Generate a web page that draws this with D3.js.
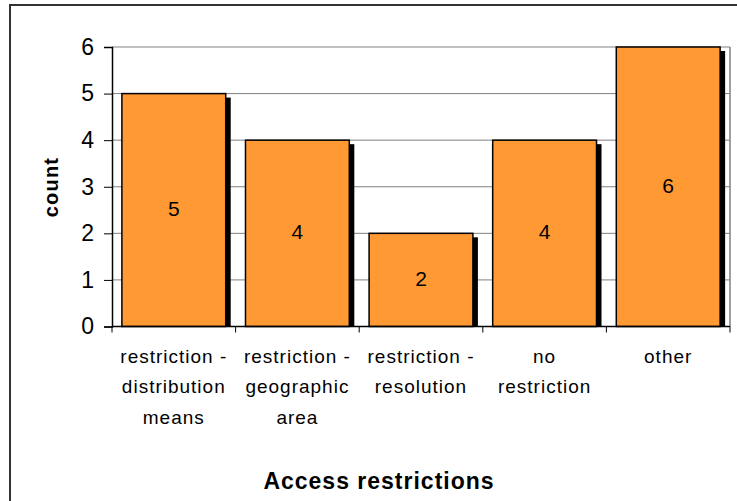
<!DOCTYPE html>
<html>
<head>
<meta charset="utf-8">
<script src="https://cdn.jsdelivr.net/npm/d3@7"></script>
<style>
  body { margin: 0; background: #fff; }
  svg { display: block; font-family: "Liberation Sans", Arial, sans-serif; }
</style>
</head>
<body>
<svg id="chart"></svg>
<script>
// Chart data
const categories = [
    ["restriction -", "distribution", "means"],
    ["restriction -", "geographic", "area"],
    ["restriction -", "resolution"],
    ["no", "restriction"],
    ["other"]
];
const counts = [5, 4, 2, 4, 6];
const yTicks = [0, 1, 2, 3, 4, 5, 6];

const width = 737;
const height = 501;

const svg = d3.select("#chart")
    .attr("width", width)
    .attr("height", height);

// Outer chart border
svg.append("rect")
    .attr("x", 10).attr("y", 5)
    .attr("width", 740).attr("height", 510)
    .attr("fill", "none")
    .attr("stroke", "#333")
    .attr("stroke-width", 2);

const plot = { left: 112, right: 730, top: 47, bottom: 326.5 };

const x = d3.scaleBand()
    .domain(d3.range(categories.length))
    .range([plot.left, plot.right])
    .paddingInner(0.16)
    .paddingOuter(0.08);

const xOuter = d3.scaleBand()
    .domain(d3.range(categories.length))
    .range([plot.left, plot.right]);

const y = d3.scaleLinear()
    .domain([0, 6])
    .range([plot.bottom, plot.top]);

// Gridlines
svg.append("g")
    .selectAll("line")
    .data(yTicks.filter(d => d > 0))
    .enter().append("line")
    .attr("x1", plot.left).attr("x2", plot.right)
    .attr("y1", d => y(d)).attr("y2", d => y(d))
    .attr("stroke", "#808080")
    .attr("stroke-width", 1);

// Right border of plot area
svg.append("line")
    .attr("x1", plot.right).attr("x2", plot.right)
    .attr("y1", plot.top).attr("y2", plot.bottom)
    .attr("stroke", "#808080")
    .attr("stroke-width", 1.5);

// Bar shadows
svg.append("g")
    .selectAll("rect")
    .data(counts)
    .enter().append("rect")
    .attr("x", (d, i) => x(i) + 5)
    .attr("y", d => y(d) + 4)
    .attr("width", x.bandwidth())
    .attr("height", d => plot.bottom - y(d) - 4)
    .attr("fill", "#000");

// Bars
svg.append("g")
    .selectAll("rect")
    .data(counts)
    .enter().append("rect")
    .attr("x", (d, i) => x(i))
    .attr("y", d => y(d))
    .attr("width", x.bandwidth())
    .attr("height", d => plot.bottom - y(d))
    .attr("fill", "#FF9933")
    .attr("stroke", "#000")
    .attr("stroke-width", 1.5);

// Value labels
svg.append("g")
    .selectAll("text")
    .data(counts)
    .enter().append("text")
    .attr("x", (d, i) => x(i) + x.bandwidth() / 2)
    .attr("y", d => (y(d) + plot.bottom) / 2)
    .attr("dy", "0.28em")
    .attr("text-anchor", "middle")
    .attr("font-size", 21)
    .text(d => d);

// Y axis
const yAxis = svg.append("g")
    .attr("transform", `translate(${plot.left},0)`)
    .call(d3.axisLeft(y).tickValues(yTicks).tickFormat(d3.format("d")).tickSize(8).tickPadding(10));
yAxis.select(".domain").attr("stroke", "#000").attr("stroke-width", 1.5);
yAxis.selectAll(".tick line").attr("stroke", "#000");
yAxis.selectAll("text").attr("font-size", 23).attr("fill", "#000")
    .attr("font-family", "Liberation Sans, Arial, sans-serif");

// X axis line and ticks
svg.append("line")
    .attr("x1", plot.left).attr("x2", plot.right)
    .attr("y1", plot.bottom).attr("y2", plot.bottom)
    .attr("stroke", "#000").attr("stroke-width", 1.5);

svg.append("g")
    .selectAll("line")
    .data(d3.range(categories.length + 1))
    .enter().append("line")
    .attr("x1", d => plot.left + d * xOuter.step())
    .attr("x2", d => plot.left + d * xOuter.step())
    .attr("y1", plot.bottom).attr("y2", plot.bottom + 6)
    .attr("stroke", "#000");

// Category labels
const catLabels = svg.append("g")
    .selectAll("text")
    .data(categories)
    .enter().append("text")
    .attr("x", (d, i) => xOuter(i) + xOuter.bandwidth() / 2)
    .attr("y", 363)
    .attr("text-anchor", "middle")
    .attr("font-size", 19)
    .attr("letter-spacing", 1);

catLabels.selectAll("tspan")
    .data(d => d)
    .enter().append("tspan")
    .attr("x", function() { return this.parentNode.getAttribute("x"); })
    .attr("dy", (d, i) => i === 0 ? 0 : 30.3)
    .text(d => d);

// Axis titles
svg.append("text")
    .attr("transform", "translate(58,187) rotate(-90)")
    .attr("text-anchor", "middle")
    .attr("font-size", 20)
    .attr("font-weight", "bold")
    .attr("letter-spacing", 1.2)
    .text("count");

svg.append("text")
    .attr("x", 379)
    .attr("y", 489)
    .attr("text-anchor", "middle")
    .attr("font-size", 23)
    .attr("font-weight", "bold")
    .attr("letter-spacing", 1)
    .text("Access restrictions");
</script>
</body>
</html>
